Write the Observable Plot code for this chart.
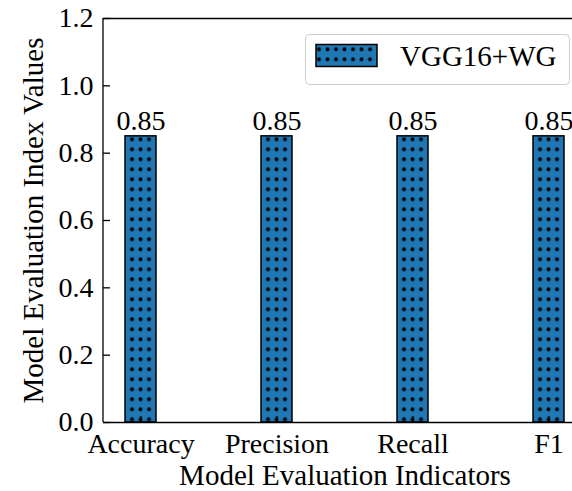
<!DOCTYPE html>
<html><head><meta charset="utf-8">
<script src="https://cdn.jsdelivr.net/npm/d3@7"></script>
<script src="https://cdn.jsdelivr.net/npm/@observablehq/plot@0.6"></script>
<style>body{margin:0;background:#fff}#chart svg{overflow:hidden}</style>
</head><body><div id="chart"></div>
<script>
const categories = ["Accuracy", "Precision", "Recall", "F1"];
const values = [0.85, 0.85, 0.85, 0.85];
const valueLabels = ["0.85", "0.85", "0.85", "0.85"];
const yTicks = [0, 0.2, 0.4, 0.6, 0.8, 1.0, 1.2];
const seriesName = "VGG16+WG";
const xTitle = "Model Evaluation Indicators";
const yTitle = "Model Evaluation Index Values";

const data = categories.map((c, i) => ({category: c, value: values[i], label: valueLabels[i]}));
const FONT = "'Liberation Serif','Times New Roman',serif";
const BLUE = "#1f77b4";
const NS = "http://www.w3.org/2000/svg";
function el(tag, attrs = {}, text) {
  const e = document.createElementNS(NS, tag);
  for (const [k, v] of Object.entries(attrs)) e.setAttribute(k, v);
  if (text != null) e.textContent = text;
  return e;
}

const defsMark = () => {
  const defs = el("defs");
  const p = el("pattern", {id: "dots", patternUnits: "userSpaceOnUse", width: 8.5, height: 10, x: 136.25, y: 144.3});
  p.appendChild(el("rect", {width: 8.5, height: 10, fill: BLUE}));
  p.appendChild(el("circle", {cx: 4.25, cy: 5, r: 2, fill: "#000"}));
  defs.appendChild(p);
  return defs;
};

const leftSpine = (index, scales, values, dim) =>
  el("line", {x1: dim.marginLeft, x2: dim.marginLeft, y1: dim.marginTop, y2: dim.height - dim.marginBottom, stroke: "#000", "stroke-width": 1.3});

const legendMark = () => {
  const g = el("g");
  g.appendChild(el("rect", {x: 305.5, y: 34.5, width: 264, height: 50, rx: 4, fill: "#fff", "fill-opacity": 0.8, stroke: "#cccccc", "stroke-width": 1}));
  g.appendChild(el("rect", {x: 316, y: 44.5, width: 61, height: 22, fill: "url(#dots)", stroke: "#000", "stroke-width": 1.5}));
  g.appendChild(el("text", {x: 400, y: 65.5, "font-size": 29, "font-family": FONT, fill: "#000", "text-anchor": "start"}, seriesName));
  return g;
};

const chart = Plot.plot({
  width: 572,
  height: 491,
  marginLeft: 103,
  marginRight: 0,
  marginTop: 18,
  marginBottom: 69,
  style: {fontFamily: FONT, background: "#fff", color: "#000"},
  x: {domain: categories, range: [103, 586], paddingInner: 0.773, paddingOuter: 0.156, align: 0.5, axis: null},
  y: {domain: [0, 1.2], axis: null},
  marks: [
    defsMark,
    Plot.barY(data, {x: "category", y: "value", fill: "url(#dots)", stroke: "#000", strokeWidth: 1.5}),
    Plot.text(data, {x: "category", y: "value", text: "label", lineAnchor: "bottom", dy: -6, fontSize: 28, fill: "#000"}),
    Plot.ruleY([0, 1.2], {stroke: "#000", strokeWidth: 1.3}),
    leftSpine,
    Plot.axisY({ticks: yTicks, tickSize: -7, tickPadding: 17, tickFormat: d3.format(".1f"), fontSize: 28, label: null, strokeWidth: 1.3}),
    Plot.axisX({tickSize: -6, tickPadding: 16.6, fontSize: 28, label: null, strokeWidth: 1.3}),
    Plot.text([yTitle], {frameAnchor: "left", rotate: -90, dx: -70, textAnchor: "middle", lineAnchor: "middle", fontSize: 29, fill: "#000"}),
    Plot.text([xTitle], {frameAnchor: "bottom", dx: 7, dy: 53.7, textAnchor: "middle", lineAnchor: "middle", fontSize: 29, fill: "#000"}),
    legendMark
  ]
});
document.getElementById("chart").appendChild(chart);
</script>
</body></html>
